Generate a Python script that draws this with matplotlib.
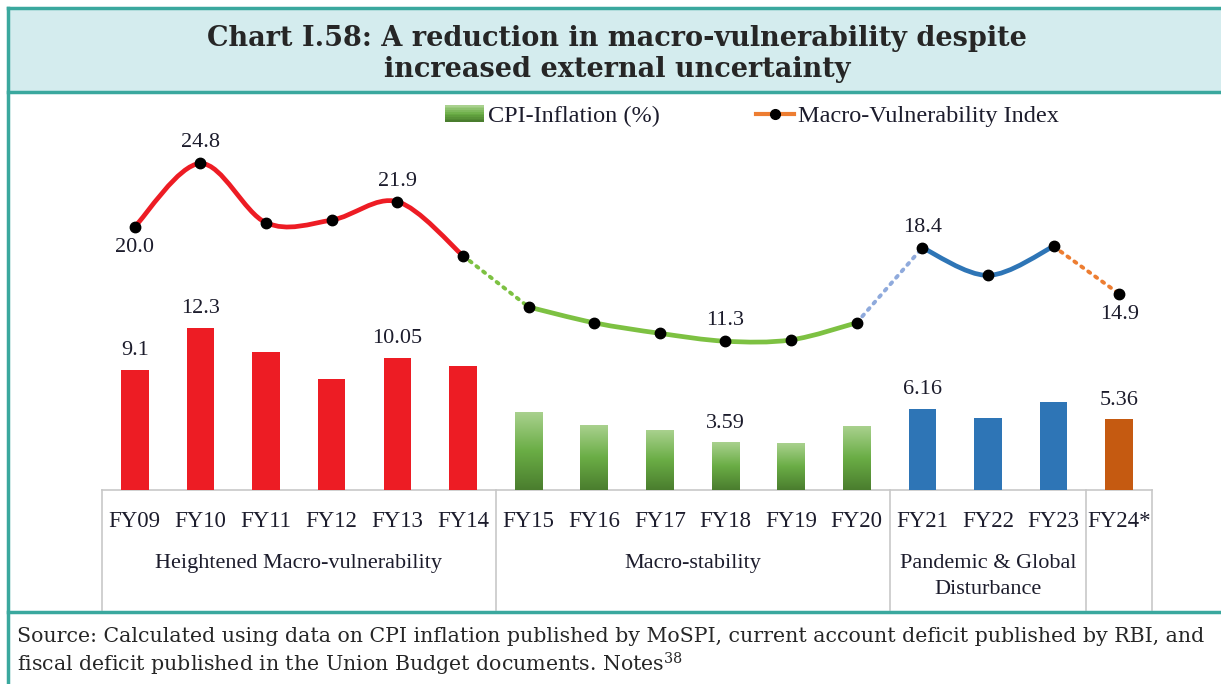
import numpy as np
import matplotlib
matplotlib.use("Agg")
import matplotlib.pyplot as plt
from matplotlib.path import Path
from matplotlib.patches import PathPatch, Rectangle
from matplotlib.lines import Line2D
from matplotlib.legend_handler import HandlerBase
from matplotlib.colors import LinearSegmentedColormap

plt.rcParams["font.family"] = ["Liberation Serif", "DejaVu Serif"]
plt.rcParams["mathtext.fontset"] = "dejavuserif"

# ---- data ----
years = ["FY09", "FY10", "FY11", "FY12", "FY13", "FY14",
         "FY15", "FY16", "FY17", "FY18", "FY19", "FY20",
         "FY21", "FY22", "FY23", "FY24*"]
cpi = [9.1, 12.3, 10.5, 8.4, 10.05, 9.4,
       5.9, 4.9, 4.5, 3.59, 3.5, 4.8,
       6.16, 5.5, 6.7, 5.36]
mvi = [20.0, 24.8, 20.3, 20.5, 21.9, 17.8,
       13.9, 12.7, 11.9, 11.3, 11.4, 12.7,
       18.4, 16.3, 18.5, 14.9]

# phases: (first index, last index, label)
phases = [(0, 5, "Heightened Macro-vulnerability"),
          (6, 11, "Macro-stability"),
          (12, 14, "Pandemic & Global\nDisturbance"),
          (15, 15, "")]

bar_labels = {0: "{:.1f}", 1: "{:.1f}", 4: "{:.2f}", 9: "{:.2f}", 12: "{:.2f}", 15: "{:.2f}"}
line_labels = {0: ("{:.1f}", "below"), 1: ("{:.1f}", "above"), 4: ("{:.1f}", "above"),
               9: ("{:.1f}", "above"), 12: ("{:.1f}", "above"), 15: ("{:.1f}", "below")}

RED = "#ED1C24"
BLUE = "#2E75B6"
ORANGE_BAR = "#C55A11"
ORANGE_LINE = "#ED7D31"
GREEN_LINE = "#7DC142"
LBLUE = "#8FAADC"
TEAL = "#3AA89E"
TXT = "#1c1c2c"

green_cmap = LinearSegmentedColormap.from_list(
    "grn", ["#4A7D2E", "#6AAD45", "#A9D18E"])

W, H = 1221, 684
fig = plt.figure(figsize=(W / 100, H / 100), dpi=100)


def fx(px):
    return px / W


def fy(py):
    return 1 - py / H


# ---- frame, title box, separator ----
fig.patches.append(Rectangle((fx(8), fy(92)), 1 - fx(8), fy(8) - fy(92),
                             transform=fig.transFigure, facecolor="#D4ECEE",
                             edgecolor="none", zorder=0))
for (x0, y0, x1, y1) in [(8, 8, W, 8), (8, 92, W, 92), (8, 612, W, 612), (8, 8, 8, H)]:
    fig.lines.append(Line2D([fx(x0), fx(x1)], [fy(y0), fy(y1)], transform=fig.transFigure,
                            color=TEAL, lw=2.5, zorder=1))

fig.text(fx(617), fy(54), "Chart I.58: A reduction in macro-vulnerability despite\n"
         "increased external uncertainty", ha="center", va="center",
         fontsize=19.5, fontweight="bold", color="#262626", linespacing=1.15,
         family="DejaVu Serif")

fig.text(fx(17), fy(636), "Source: Calculated using data on CPI inflation published by MoSPI, "
         "current account deficit published by RBI, and", ha="left", va="center",
         fontsize=14.8, color="#262626", family="DejaVu Serif")
fig.text(fx(17), fy(664), r"fiscal deficit published in the Union Budget documents. Notes$^{38}$",
         ha="left", va="center", fontsize=14.8, color="#262626", family="DejaVu Serif")

# ---- main axes ----
ax = fig.add_axes([fx(102), fy(490), fx(1152) - fx(102), fy(95) - fy(490)])
x = np.arange(len(years))
for s in ax.spines.values():
    s.set_visible(False)
ax.set_yticks([])

# bars
bw = 0.42
colors = []
for lo, hi, _ in phases:
    for i in range(lo, hi + 1):
        if lo == 0:
            colors.append(RED)
        elif lo == 6:
            colors.append("green")
        elif lo == 12:
            colors.append(BLUE)
        else:
            colors.append(ORANGE_BAR)

grad = np.linspace(0, 1, 256).reshape(-1, 1)
for i, (v, c) in enumerate(zip(cpi, colors)):
    if c == "green":
        ax.imshow(grad, cmap=green_cmap, origin="lower", aspect="auto",
                  extent=(i - bw / 2, i + bw / 2, 0, v), zorder=2)
    else:
        ax.bar(i, v, width=bw, color=c, zorder=2)
ax.set_xlim(-0.5, len(years) - 0.5)
ax.set_ylim(0, 30)

for i, f in bar_labels.items():
    ax.annotate(f.format(cpi[i]), (i, cpi[i]), xytext=(0, 7), textcoords="offset points",
                ha="center", va="bottom", fontsize=16, color=TXT)


# smoothed line (Catmull-Rom as cubic Bezier)
def smooth_path(xs, ys):
    pts = np.column_stack([xs, ys])
    verts = [pts[0]]
    codes = [Path.MOVETO]
    n = len(pts)
    for k in range(n - 1):
        p0 = pts[max(k - 1, 0)]
        p1 = pts[k]
        p2 = pts[k + 1]
        p3 = pts[min(k + 2, n - 1)]
        verts += [p1 + (p2 - p0) / 6, p2 - (p3 - p1) / 6, p2]
        codes += [Path.CURVE4] * 3
    return Path(verts, codes)


segments = [(0, 5, RED, "-"), (5, 6, GREEN_LINE, ":"), (6, 11, GREEN_LINE, "-"),
            (11, 12, LBLUE, ":"), (12, 14, BLUE, "-"), (14, 15, ORANGE_LINE, ":")]
for lo, hi, c, ls in segments:
    xs = x[lo:hi + 1]
    ys = mvi[lo:hi + 1]
    if ls == "-":
        ax.add_patch(PathPatch(smooth_path(xs, ys), facecolor="none", edgecolor=c,
                               lw=3.4, zorder=3, capstyle="round"))
    else:
        ax.plot(xs, ys, color=c, lw=2.8, linestyle=(0, (0.6, 1.6)),
                dash_capstyle="round", zorder=3)
ax.plot(x, mvi, "o", color="black", ms=7.5, zorder=4)

for i, (f, pos) in line_labels.items():
    off = (0, 8) if pos == "above" else (0, -8)
    ax.annotate(f.format(mvi[i]), (i, mvi[i]), xytext=off, textcoords="offset points",
                ha="center", va="bottom" if pos == "above" else "top",
                fontsize=16, color=TXT)

# category axis box
ax.set_xticks(x)
ax.set_xticklabels(years, fontsize=16.5, color=TXT)
ax.tick_params(axis="x", length=0, pad=15)
trans = ax.get_xaxis_transform()
box_bottom = -(610 - 490) / (490 - 95)
ax.plot([-0.5, len(years) - 0.5], [0, 0], color="#C8C8C8", lw=1.2,
        transform=trans, clip_on=False, zorder=1)
bounds = [-0.5] + [hi + 0.5 for lo, hi, _ in phases]
for b in bounds:
    ax.plot([b, b], [0, box_bottom], color="#C8C8C8", lw=1.2,
            transform=trans, clip_on=False)
for lo, hi, name in phases:
    if name:
        ax.text((lo + hi) / 2, -(554 - 490) / (490 - 95), name, transform=trans,
                ha="center", va="top", fontsize=16, color=TXT, linespacing=1.5)


# legend with a gradient swatch for the CPI bars
class GradientHandler(HandlerBase):
    def create_artists(self, legend, orig_handle, xdescent, ydescent, width, height,
                       fontsize, trans):
        n = 10
        out = []
        for k in range(n):
            out.append(Rectangle((-xdescent, -ydescent + height * k / n), width, height / n,
                                 facecolor=green_cmap(k / (n - 1)), edgecolor="none",
                                 transform=trans))
        return out


cpi_handle = Rectangle((0, 0), 1, 1)
mvi_handle = Line2D([], [], color=ORANGE_LINE, lw=3, marker="o", mfc="black",
                    mec="black", ms=7)
fig.legend([cpi_handle, mvi_handle], ["CPI-Inflation (%)", "Macro-Vulnerability Index"],
           handler_map={Rectangle: GradientHandler()}, loc="center",
           bbox_to_anchor=(fx(752), fy(116)), ncol=2, frameon=False, fontsize=17.5,
           handlelength=1.6, handletextpad=0.15, columnspacing=3.95, labelcolor=TXT)

fig.savefig("out.png", dpi=100)
